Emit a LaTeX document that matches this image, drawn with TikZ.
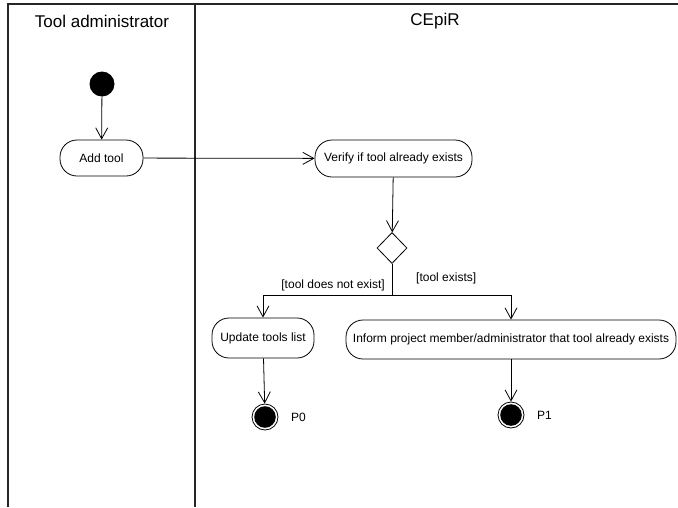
\documentclass[tikz,border=0pt]{standalone}
\usepackage{fontspec}
\setmainfont{Liberation Sans}
\usetikzlibrary{arrows.meta,shapes.geometric}
\begin{document}
\begin{tikzpicture}[x=1pt,y=-1pt,
  lane/.style={line width=1.2pt,black!85},
  flow/.style={line width=0.8pt},
  arr/.style={flow,-{Straight Barb[length=11pt,width=12pt,line width=0.8pt]}},
  action/.style={draw,line width=0.8pt,rounded corners=17pt,inner sep=0pt,
    font=\fontsize{12}{14}\selectfont},
  decision/.style={draw,line width=0.8pt,diamond,inner sep=0pt,minimum width=30pt,minimum height=31pt},
  startnode/.style={circle,fill=black,inner sep=0pt,minimum size=25pt},
  endnode/.style={circle,draw,line width=0.8pt,inner sep=0pt,minimum size=26pt,
    path picture={\fill (path picture bounding box.center) circle (10.8pt);}},
  guard/.style={font=\fontsize{12}{14}\selectfont,inner sep=0pt},
  header/.style={font=\fontsize{17}{20}\selectfont,inner sep=0pt}]
\useasboundingbox (0,0) rectangle (678,507);

% swimlanes
\draw[lane] (8,507) -- (8,4) -- (678,4);
\draw[lane] (195,4) -- (195,507);
\node[header] (laneA) at (102,21) {Tool administrator};
\node[header] (laneB) at (435,21) {CEpiR};

% activity nodes
\node[startnode] (start) at (102,84) {};
\node[action,minimum width=83pt,minimum height=36pt] (add) at (101.5,158) {Add tool};
\node[action,minimum width=157pt,minimum height=37pt] (verify) at (393.5,158.5) {Verify if tool already exists};
\node[decision] (dec) at (392,248) {};
\coordinate (split) at (392,295);
\node[action,minimum width=102pt,minimum height=40pt] (update) at (263,338) {Update tools list};
\node[action,minimum width=330pt,minimum height=39pt] (inform) at (511,339.5) {Inform project member/administrator that tool already exists};
\node[endnode] (end0) at (265,417) {};
\node[endnode] (end1) at (511,415) {};

% labels
\node[guard,anchor=east] (g0) at (385,285) {[tool does not exist]};
\node[guard,anchor=west] (g1) at (416,278) {[tool exists]};
\node[guard,anchor=west] (p0) at (291,417) {P0};
\node[guard,anchor=west] (p1) at (537,415) {P1};

% control flow
\draw[arr] (start) -- (add);
\draw[arr] (add) -- (verify);
\draw[arr] (verify) -- (dec);
\draw[flow] (dec.south) -- (split);
\draw[arr] (split) -| (update);
\draw[arr] (split) -| (inform);
\draw[arr] (update) -- (end0);
\draw[arr] (inform) -- (end1);
\end{tikzpicture}
\end{document}
